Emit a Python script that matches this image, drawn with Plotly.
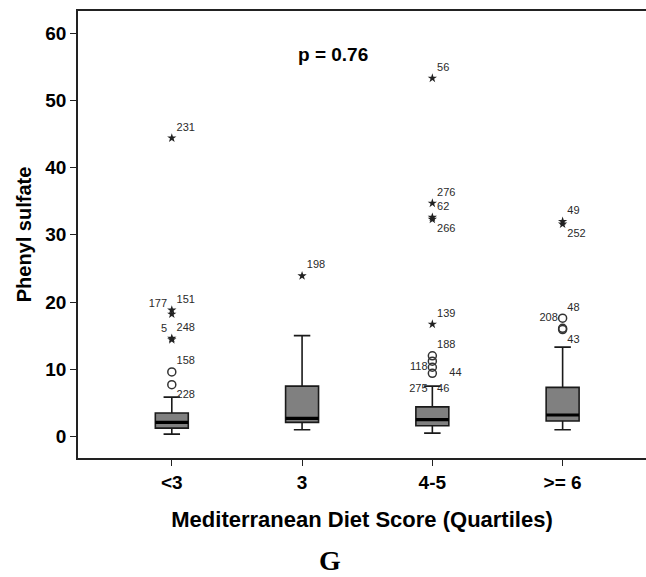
import plotly.graph_objects as go

# ---- data ----
categories = ["<3", "3", "4-5", ">= 6"]
q1 = [1.24, 2.1, 1.6, 2.3]
median = [2.1, 2.7, 2.5, 3.2]
q3 = [3.5, 7.5, 4.4, 7.3]
lower_whisker = [0.35, 1.0, 0.5, 1.0]
upper_whisker = [5.85, 15.0, 7.5, 13.3]

# mild outliers (circles): (group index, value)
circle_group = [0, 0, 2, 2, 2, 2, 3, 3, 3]
circle_value = [9.6, 7.7, 12.0, 11.2, 10.3, 9.4, 17.6, 16.1, 15.9]

# extreme outliers (stars)
star_group = [0, 0, 0, 0, 0, 1, 2, 2, 2, 2, 2, 3, 3]
star_value = [44.4, 18.8, 18.2, 14.6, 14.4, 23.9, 53.3, 34.7, 32.6, 32.3, 16.7, 32.0, 31.6]

# case-number labels: (group, value it sits next to, text, side)
label_group = [0, 0, 0, 0, 0, 0, 0, 1, 2, 2, 2, 2, 2, 2, 2, 2, 2, 2, 3, 3, 3, 3, 3]
label_value = [44.4, 18.8, 18.2, 14.6, 14.4, 9.6, 7.7, 23.9, 53.3, 34.7, 32.6, 32.3, 16.7,
               12.0, 10.3, 9.4, 8.6, 8.6, 32.0, 31.6, 17.6, 17.6, 15.9]
label_text = ["231", "151", "177", "248", "5", "158", "228", "198", "56", "276", "62", "266", "139",
              "188", "118", "\u00a0\u00a0\u00a0\u00a044", "275", "46", "49", "252", "48", "208", "43"]
label_side = ["top right", "top right", "top left", "top right", "top left", "top right", "bottom right",
              "top right", "top right", "top right", "top right", "bottom right", "top right",
              "top right", "middle left", "middle right", "bottom left", "bottom right",
              "top right", "bottom right", "top right", "middle left", "bottom right"]

y_ticks = [0, 10, 20, 30, 40, 50, 60]
positions = list(range(len(categories)))
box_width = 0.253

FONT = "Liberation Sans, Arial"

fig = go.Figure()

fig.add_trace(go.Box(
    x=positions, q1=q1, median=median, q3=q3,
    lowerfence=lower_whisker, upperfence=upper_whisker,
    width=box_width, whiskerwidth=0.5,
    fillcolor="#808080", line=dict(color="#1a1a1a", width=1.6),
    boxpoints=False, showlegend=False, hoverinfo="skip",
))

# thick median lines
for p, m in zip(positions, median):
    fig.add_trace(go.Scatter(
        x=[p - box_width / 2, p + box_width / 2], y=[m, m], mode="lines",
        line=dict(color="black", width=3.2), showlegend=False, hoverinfo="skip",
    ))

fig.add_trace(go.Scatter(
    x=circle_group, y=circle_value, mode="markers",
    marker=dict(symbol="circle-open", size=8, color="#333333", line=dict(width=1.5)),
    showlegend=False, hoverinfo="skip",
))

fig.add_trace(go.Scatter(
    x=star_group, y=star_value, mode="markers",
    marker=dict(symbol="star", size=7, color="#222222", line=dict(width=0)),
    showlegend=False, hoverinfo="skip",
))

fig.add_trace(go.Scatter(
    x=label_group, y=label_value, mode="markers+text", text=label_text,
    textposition=label_side,
    marker=dict(size=6, opacity=0),
    textfont=dict(family=FONT, size=11, color="#2a2a2a"),
    showlegend=False, hoverinfo="skip",
))

fig.update_layout(
    width=646, height=577,
    margin=dict(l=78, r=0, t=11, b=119),
    plot_bgcolor="white", paper_bgcolor="white",
    xaxis=dict(
        range=[-0.72, 3.64], tickvals=positions,
        ticktext=["<b>%s</b>" % c for c in categories],
        tickfont=dict(family=FONT, size=19, color="black"),
        showline=True, mirror=True, linecolor="#222222", linewidth=1.5,
        ticks="outside", ticklen=6, tickwidth=1.3, tickcolor="#222222",
        showgrid=False, zeroline=False,
        title=dict(text="<b>Mediterranean Diet Score (Quartiles)</b>",
                   font=dict(family=FONT, size=22, color="black"), standoff=20),
    ),
    yaxis=dict(
        range=[-3.2, 63.3], tickvals=y_ticks,
        ticktext=["<b>%d</b>" % v for v in y_ticks],
        tickfont=dict(family=FONT, size=19, color="black"),
        showline=True, linecolor="#222222", linewidth=1.5,
        ticks="outside", ticklen=6, tickwidth=1.3, tickcolor="#222222",
        showgrid=False, zeroline=False,
        title=dict(text="<b>Phenyl sulfate</b>",
                   font=dict(family=FONT, size=20, color="black"), standoff=8),
    ),
    annotations=[
        dict(text="<b>p = 0.76</b>", xref="paper", yref="paper", x=(333 - 78) / 568, y=(458 - 54) / 447,
             xanchor="center", yanchor="middle",
             showarrow=False, font=dict(family=FONT, size=19, color="black")),
        dict(text="<b>G</b>", xref="paper", yref="paper", x=(330 - 78) / 568, y=(458 - 560) / 447,
             xanchor="center", yanchor="middle",
             showarrow=False, font=dict(family="Liberation Serif, Times New Roman", size=28, color="black")),
    ],
)

fig.write_html("out.html")
